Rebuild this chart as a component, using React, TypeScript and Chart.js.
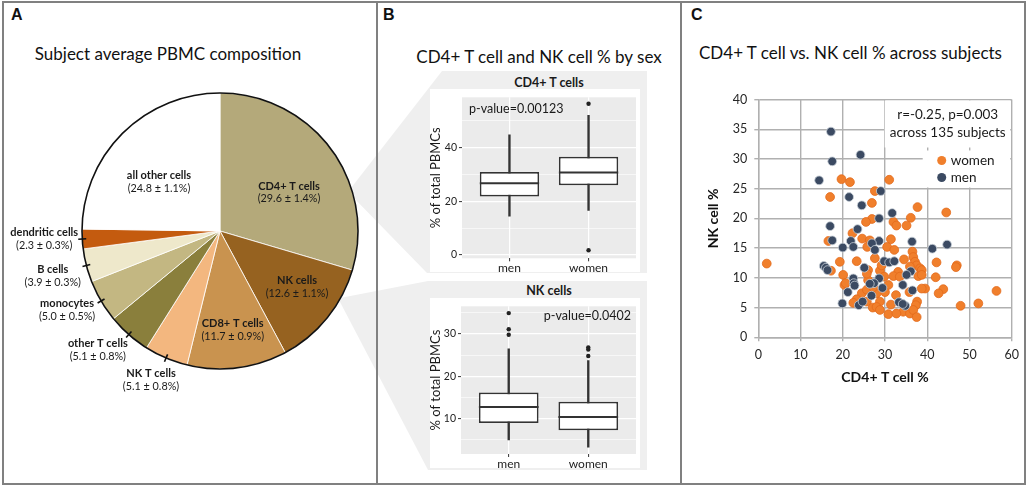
import React, { useEffect, useRef } from 'react';
import { Chart, registerables } from 'chart.js';

Chart.register(...registerables);

// ---------------- Data ----------------
// Panel A: pie
const pieNames = ['CD4+ T cells', 'NK cells', 'CD8+ T cells', 'NK T cells', 'other T cells', 'monocytes', 'B cells', 'dendritic cells', 'all other cells'];
const pieValues = [29.6, 12.6, 11.7, 5.1, 5.1, 5.0, 3.9, 2.3, 24.8];
const pieErrors = [1.4, 1.1, 0.9, 0.8, 0.8, 0.5, 0.3, 0.3, 1.1];

// Panel B: box plots
const boxGroups = ['men', 'women'];
const cd4Min = [14.5, 16.6];
const cd4Q1 = [21.8, 26.0];
const cd4Median = [26.7, 30.7];
const cd4Q3 = [30.9, 36.6];
const cd4Max = [44.7, 52.0];
const cd4OutliersMen: number[] = [];
const cd4OutliersWomen = [56.3, 1.8];

const nkMin = [5.0, 3.3];
const nkQ1 = [9.0, 7.3];
const nkMedian = [12.8, 10.4];
const nkQ3 = [16.2, 14.0];
const nkMax = [26.5, 23.7];
const nkOutliersMen = [34.9, 31.1, 29.8];
const nkOutliersWomen = [26.8, 26.3, 24.8];

const cd4Ticks = [0, 10, 20, 30, 40, 50];
const cd4Major = [0, 20, 40];
const nkTicks = [5, 10, 15, 20, 25, 30, 35];
const nkMajor = [10, 20, 30];

// Panel C: scatter
const menX = [17.2, 24.2, 17.5, 14.4, 29.0, 21.5, 24.5, 31.7, 28.6, 17.0, 23.5, 17.5, 21.9, 28.6, 36.4, 26.9, 20.0, 22.5, 27.6, 41.2, 44.7, 15.5, 16.0, 16.4, 25.1, 29.8, 31.0, 32.2, 36.1, 35.1, 22.5, 22.6, 22.8, 28.6, 27.4, 26.4, 29.4, 34.2, 36.5, 21.2, 26.8, 19.9, 23.8, 24.7, 33.3, 34.8, 34.2];
const menY = [34.6, 30.7, 29.6, 26.4, 24.6, 23.6, 22.2, 20.9, 20.0, 18.7, 18.2, 16.3, 16.2, 16.2, 16.1, 15.8, 15.1, 15.2, 14.7, 14.9, 15.6, 12.0, 11.7, 11.3, 11.7, 12.8, 12.6, 12.8, 11.1, 10.5, 9.9, 9.1, 8.7, 9.9, 9.1, 9.0, 8.3, 8.8, 7.9, 7.6, 7.0, 5.7, 5.4, 6.0, 5.9, 5.3, 5.6];
const womenX = [2.0, 19.7, 21.7, 31.0, 27.6, 17.0, 26.9, 37.7, 44.5, 36.1, 26.9, 25.5, 32.0, 32.7, 35.1, 22.3, 24.6, 16.6, 26.4, 31.4, 30.5, 25.8, 32.2, 36.5, 36.7, 34.5, 27.6, 23.3, 19.3, 37.1, 37.5, 42.2, 47.0, 46.8, 38.3, 38.7, 33.1, 28.8, 26.0, 17.2, 20.1, 32.0, 33.5, 37.9, 38.7, 42.0, 26.0, 29.8, 30.8, 20.4, 20.7, 39.5, 38.7, 43.8, 42.7, 56.4, 35.8, 30.0, 24.5, 28.0, 32.6, 23.3, 22.5, 25.7, 28.8, 31.4, 37.6, 37.3, 47.9, 52.1, 27.1, 28.0, 28.8, 30.8, 34.3, 35.9, 36.7, 37.5, 32.7, 25.7, 29.2, 35.9, 25.7, 27.2];
const womenY = [12.4, 26.6, 26.1, 26.5, 24.6, 23.6, 22.6, 21.9, 21.0, 20.1, 19.9, 19.4, 19.4, 18.8, 18.8, 17.5, 16.6, 16.2, 16.3, 16.5, 15.2, 15.2, 14.7, 14.4, 13.5, 13.1, 13.3, 12.8, 12.7, 12.7, 12.1, 12.6, 12.1, 11.8, 11.6, 11.3, 11.0, 11.2, 11.3, 11.2, 10.5, 10.3, 10.2, 10.3, 10.5, 10.1, 9.6, 10.2, 8.8, 8.8, 9.1, 8.2, 8.2, 8.1, 7.4, 7.8, 7.6, 7.6, 7.4, 7.4, 7.1, 6.4, 5.8, 6.0, 6.0, 5.5, 6.0, 5.4, 5.3, 5.7, 5.0, 5.1, 4.6, 3.9, 4.3, 4.0, 4.6, 3.4, 4.0, 10.7, 12.1, 11.9, 8.0, 8.4];

// ---------------- Styles / layout ----------------
const FONT = 'Lato';
const pieColors = ['#b4a97a', '#966220', '#c9934f', '#f3b77f', '#8a7f3c', '#c3b782', '#eee8cb', '#c45b0f', '#ffffff'];
// label placement: inside => offset from pie centre; outside => offset from rim tick
const pieLabelLayout = [
  { inside: true, dx: 69, dy: -38.5 },
  { inside: true, dx: 77, dy: 56 },
  { inside: true, dx: 12.7, dy: 98.7 },
  { inside: false, dx: -15, dy: 22 },
  { inside: false, dx: -31, dy: 15 },
  { inside: false, dx: -34, dy: 8.6 },
  { inside: false, dx: -33.6, dy: 10.7 },
  { inside: false, dx: -38, dy: 0.3 },
  { inside: true, dx: -61, dy: -49.3 },
];

const pieDecor = {
  id: 'pieDecor',
  afterDatasetsDraw(chart: any) {
    const ctx = chart.ctx as CanvasRenderingContext2D;
    const meta = chart.getDatasetMeta(0);
    const a0 = meta.data[0];
    const { x, y, outerRadius } = a0.getProps(['x', 'y', 'outerRadius'], true);
    ctx.save();
    ctx.beginPath();
    ctx.arc(x, y, outerRadius, 0, Math.PI * 2);
    ctx.lineWidth = 1.6;
    ctx.strokeStyle = '#111';
    ctx.stroke();
    meta.data.forEach((arc: any, i: number) => {
      const { startAngle, endAngle } = arc.getProps(['startAngle', 'endAngle'], true);
      const mid = (startAngle + endAngle) / 2;
      const c = Math.cos(mid);
      const s = Math.sin(mid);
      const L = pieLabelLayout[i];
      let lx: number;
      let ly: number;
      if (L.inside) {
        lx = x + L.dx;
        ly = y + L.dy;
      } else {
        ctx.beginPath();
        ctx.moveTo(x + c * (outerRadius - 4), y + s * (outerRadius - 4));
        ctx.lineTo(x + c * (outerRadius + 4), y + s * (outerRadius + 4));
        ctx.lineWidth = 1.6;
        ctx.strokeStyle = '#111';
        ctx.stroke();
        lx = x + c * outerRadius + L.dx;
        ly = y + s * outerRadius + L.dy;
      }
      ctx.fillStyle = '#1a1a1a';
      ctx.textAlign = 'center';
      ctx.textBaseline = 'middle';
      ctx.font = `bold 11px ${FONT}`;
      ctx.fillText(pieNames[i], lx, ly - 6.5);
      ctx.font = `10.8px ${FONT}`;
      ctx.fillText(`(${pieValues[i].toFixed(1)} \u00b1 ${pieErrors[i].toFixed(1)}%)`, lx, ly + 6.5);
    });
    ctx.restore();
  },
};

function makePie() {
  return {
    type: 'pie',
    data: {
      labels: pieNames,
      datasets: [{ data: pieValues, backgroundColor: pieColors, borderColor: '#ffffff', borderWidth: 0.8, radius: 138 }],
    },
    options: {
      animation: false,
      responsive: true,
      maintainAspectRatio: false,
      layout: { padding: { left: 76, right: 16, top: 25, bottom: 25 } },
      plugins: { legend: { display: false }, tooltip: { enabled: false } },
    },
    plugins: [pieDecor],
  };
}

const ggPanel = {
  id: 'ggPanel',
  beforeDraw(chart: any) {
    const { ctx, chartArea: a } = chart;
    ctx.save();
    ctx.fillStyle = '#ebebeb';
    ctx.fillRect(a.left, a.top, a.width, a.height);
    ctx.restore();
  },
  afterDatasetsDraw(chart: any, _args: any, o: any) {
    const { ctx, chartArea: a } = chart;
    const yScale = chart.scales.y;
    const meta = chart.getDatasetMeta(0);
    ctx.save();
    meta.data.forEach((bar: any, i: number) => {
      const { x, width } = bar.getProps(['x', 'width'], true);
      const py = yScale.getPixelForValue(o.medians[i]);
      ctx.beginPath();
      ctx.moveTo(x - width / 2, py);
      ctx.lineTo(x + width / 2, py);
      ctx.lineWidth = 2;
      ctx.strokeStyle = '#333';
      ctx.stroke();
    });
    ctx.fillStyle = '#1a1a1a';
    ctx.font = `12.5px ${FONT}`;
    ctx.textBaseline = 'middle';
    if (o.right) {
      ctx.textAlign = 'right';
      ctx.fillText(o.text, a.right - 5, a.top + 9.5);
    } else {
      ctx.textAlign = 'left';
      ctx.fillText(o.text, a.left + 7, a.top + 11.5);
    }
    ctx.restore();
  },
};

function makeBox(p: any) {
  const outliers = [
    ...p.outMen.map((v: number) => ({ x: 0, y: v })),
    ...p.outWomen.map((v: number) => ({ x: 1, y: v })),
  ];
  const isMajor = (v: number) => p.major.includes(v);
  return {
    type: 'bar',
    data: {
      datasets: [
        {
          type: 'bar',
          data: boxGroups.map((_, i) => ({ x: i, y: [p.q1[i], p.q3[i]] })),
          backgroundColor: '#ffffff',
          borderColor: '#333333',
          borderWidth: 1.7,
          borderSkipped: false,
          grouped: false,
          barPercentage: 0.75,
          categoryPercentage: 1,
        },
        {
          type: 'bar',
          data: boxGroups.map((_, i) => ({ x: i, y: [p.mins[i], p.maxs[i]] })),
          backgroundColor: '#333333',
          borderWidth: 0,
          grouped: false,
          barThickness: 1.7,
        },
        {
          type: 'line',
          data: outliers,
          showLine: false,
          pointRadius: 2.2,
          pointBackgroundColor: '#222',
          pointBorderWidth: 0,
        },
      ],
    },
    options: {
      animation: false,
      responsive: true,
      maintainAspectRatio: false,
      layout: { padding: { top: p.padTop, right: 3, left: 0, bottom: 0 } },
      plugins: {
        legend: { display: false },
        tooltip: { enabled: false },
        ggPanel: { medians: p.med, text: p.pText, right: p.pRight },
      },
      scales: {
        x: {
          type: 'linear',
          min: -0.6,
          max: 1.6,
          offset: false,
          afterBuildTicks: (s: any) => {
            s.ticks = boxGroups.map((_, i) => ({ value: i }));
          },
          ticks: {
            callback: (v: any) => boxGroups[v],
            color: '#222',
            font: { family: FONT, size: 12 },
            padding: 0,
            autoSkip: false,
            maxRotation: 0,
          },
          grid: { color: '#ffffff', lineWidth: 1.2, offset: false, tickColor: '#333', tickLength: 3, tickWidth: 1 },
          border: { display: false },
          afterFit: (s: any) => {
            s.height = p.xHeight;
          },
        },
        y: {
          type: 'linear',
          min: p.yMin,
          max: p.yMax,
          afterBuildTicks: (s: any) => {
            s.ticks = p.ticks.map((v: number) => ({ value: v }));
          },
          ticks: {
            callback: (v: any) => (isMajor(v) ? String(v) : ''),
            color: '#222',
            font: { family: FONT, size: 10.5 },
            padding: 2,
          },
          grid: {
            color: '#ffffff',
            lineWidth: (c: any) => (c.tick && isMajor(c.tick.value) ? 1.2 : 0.6),
            tickColor: (c: any) => (c.tick && isMajor(c.tick.value) ? '#333' : 'rgba(0,0,0,0)'),
            tickLength: 3,
            tickWidth: 1,
          },
          border: { display: false },
          title: { display: true, text: '% of total PBMCs', color: '#1a1a1a', font: { family: FONT, size: 13, lineHeight: 1 }, padding: { top: 1, bottom: 0 } },
          afterFit: (s: any) => {
            s.width = p.yWidth;
          },
        },
      },
    },
    plugins: [ggPanel],
  };
}

const scatterAnno = {
  id: 'scatterAnno',
  beforeDatasetsDraw(chart: any) {
    const { ctx, chartArea: a } = chart;
    ctx.save();
    ctx.fillStyle = '#ffffff';
    ctx.fillRect(a.right - 127, a.top + 1, 125.5, 47);
    ctx.fillRect(a.right - 89, a.top + 51, 87.5, 37);
    ctx.fillStyle = '#1a1a1a';
    ctx.font = `13.5px ${FONT}`;
    ctx.textAlign = 'center';
    ctx.textBaseline = 'middle';
    ctx.fillText('r=-0.25, p=0.003', a.right - 64, a.top + 15);
    ctx.fillText('across 135 subjects', a.right - 64, a.top + 33);
    // legend: women first, then men
    const order = [1, 0];
    order.forEach((di, k) => {
      const ds = chart.data.datasets[di];
      const cy = a.top + 61 + k * 17;
      ctx.beginPath();
      ctx.arc(a.right - 70, cy, 4.5, 0, Math.PI * 2);
      ctx.fillStyle = ds.backgroundColor;
      ctx.fill();
      ctx.fillStyle = '#1a1a1a';
      ctx.textAlign = 'left';
      ctx.fillText(ds.label, a.right - 61, cy);
    });
    ctx.restore();
  },
};

function makeScatter() {
  const men = menX.map((x, i) => ({ x, y: menY[i] }));
  const women = womenX.map((x, i) => ({ x, y: womenY[i] }));
  const gridCol = '#b0b0b0';
  return {
    type: 'scatter',
    data: {
      datasets: [
        { label: 'men', data: men, backgroundColor: '#3b4a62', borderColor: '#c9d0d8', borderWidth: 0.8, pointRadius: 4.4 },
        { label: 'women', data: women, backgroundColor: '#f07f2c', borderColor: '#e3691a', borderWidth: 0.8, pointRadius: 4.4 },
      ],
    },
    options: {
      animation: false,
      responsive: true,
      maintainAspectRatio: false,
      layout: { padding: { top: 14, right: 13.3, left: 0, bottom: 0 } },
      plugins: { legend: { display: false }, tooltip: { enabled: false } },
      scales: {
        x: {
          type: 'linear',
          min: 0,
          max: 60,
          ticks: { stepSize: 10, padding: 6, color: '#262626', font: { family: FONT, size: 12.5 }, maxRotation: 0 },
          grid: { color: gridCol, lineWidth: 1.4, tickLength: 4 },
          border: { color: gridCol, width: 1.4 },
          title: { display: true, text: 'CD4+ T cell %', color: '#111', font: { family: FONT, size: 14, weight: 'bold' }, padding: { top: 0, bottom: 9.6 } },
          afterFit: (s: any) => {
            s.height = 57.7;
          },
        },
        y: {
          type: 'linear',
          min: 0,
          max: 40,
          ticks: { stepSize: 5, padding: 7, color: '#262626', font: { family: FONT, size: 12.5 } },
          grid: { color: gridCol, lineWidth: 1.4, tickLength: 4 },
          border: { color: gridCol, width: 1.4 },
          title: { display: true, text: 'NK cell %', color: '#111', font: { family: FONT, size: 14, weight: 'bold' }, padding: { top: 14.6, bottom: 0 } },
          afterFit: (s: any) => {
            s.width = 68.3;
          },
        },
      },
    },
    plugins: [scatterAnno],
  };
}

function ChartBox({ make, style }: { make: () => any; style: React.CSSProperties }) {
  const ref = useRef<HTMLCanvasElement>(null);
  useEffect(() => {
    if (!ref.current) return;
    const chart = new Chart(ref.current, make());
    return () => chart.destroy();
  }, []);
  return (
    <div style={{ position: 'absolute', ...style }}>
      <canvas ref={ref} />
    </div>
  );
}

const abs = (s: React.CSSProperties): React.CSSProperties => ({ position: 'absolute', ...s });

export default function App() {
  const titleStyle: React.CSSProperties = { fontFamily: FONT, fontSize: 17, lineHeight: '20px', color: '#111', textAlign: 'center', whiteSpace: 'nowrap' };
  const letterStyle: React.CSSProperties = { fontFamily: 'Liberation Sans, Arial, sans-serif', fontWeight: 'bold', fontSize: 16, lineHeight: '16px', color: '#111' };
  const stripStyle: React.CSSProperties = { fontFamily: FONT, fontWeight: 'bold', fontSize: 12.5, lineHeight: '14px', color: '#1a1a1a', textAlign: 'center', whiteSpace: 'nowrap' };
  return (
    <div style={abs({ left: 0, top: 0, width: 1029, height: 487, background: '#fff', overflow: 'hidden' })}>
      <svg width={1029} height={487} style={abs({ left: 0, top: 0 })}>
        <polygon points="351,188 442,71 647,71 647,273 427,273 351,195" fill="#efefef" />
        <polygon points="340,298 428,281 647,281 647,470 428,470 340,302" fill="#efefef" />
        <rect x={3} y={2} width={1022} height={482} fill="none" stroke="#808080" strokeWidth={2} />
        <line x1={377} y1={2} x2={377} y2={484} stroke="#808080" strokeWidth={2} />
        <line x1={681} y1={2} x2={681} y2={484} stroke="#808080" strokeWidth={2} />
      </svg>
      <div style={abs({ left: 430, top: 89, width: 210, height: 183, background: '#fff' })} />
      <div style={abs({ left: 430, top: 298, width: 210, height: 170, background: '#fff' })} />

      <div style={abs({ ...letterStyle, left: 11, top: 7 })}>A</div>
      <div style={abs({ ...letterStyle, left: 383, top: 7 })}>B</div>
      <div style={abs({ ...letterStyle, left: 691, top: 7 })}>C</div>

      <div style={abs({ ...titleStyle, left: 18, width: 300, top: 43.5 })}>Subject average PBMC composition</div>
      <div style={abs({ ...titleStyle, left: 389, width: 300, top: 46.5 })}>CD4+ T cell and NK cell % by sex</div>
      <div style={abs({ ...titleStyle, left: 699, width: 300, top: 42.5 })}>CD4+ T cell vs. NK cell % across subjects</div>

      <div style={abs({ ...stripStyle, left: 449, width: 200, top: 76 })}>CD4+ T cells</div>
      <div style={abs({ ...stripStyle, left: 449, width: 200, top: 284 })}>NK cells</div>

      <ChartBox make={makePie} style={{ left: 4, top: 66, width: 372, height: 330 }} />
      <ChartBox
        make={() =>
          makeBox({
            mins: cd4Min, q1: cd4Q1, med: cd4Median, q3: cd4Q3, maxs: cd4Max,
            outMen: cd4OutliersMen, outWomen: cd4OutliersWomen,
            yMin: -1.2, yMax: 58.7, ticks: cd4Ticks, major: cd4Major,
            pText: 'p-value=0.00123', pRight: false, padTop: 4.6, xHeight: 18.7, yWidth: 34,
          })
        }
        style={{ left: 428, top: 89, width: 212, height: 188 }}
      />
      <ChartBox
        make={() =>
          makeBox({
            mins: nkMin, q1: nkQ1, med: nkMedian, q3: nkQ3, maxs: nkMax,
            outMen: nkOutliersMen, outWomen: nkOutliersWomen,
            yMin: 1.7, yMax: 36.5, ticks: nkTicks, major: nkMajor,
            pText: 'p-value=0.0402', pRight: true, padTop: 3.7, xHeight: 18, yWidth: 33,
          })
        }
        style={{ left: 428, top: 298, width: 212, height: 174 }}
      />
      <ChartBox make={makeScatter} style={{ left: 690, top: 85, width: 335, height: 310 }} />
    </div>
  );
}
